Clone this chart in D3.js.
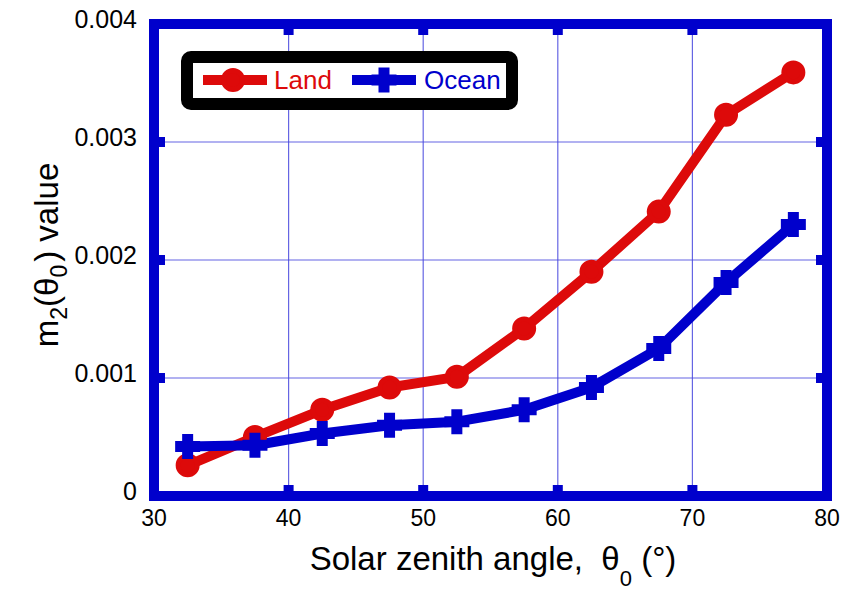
<!DOCTYPE html>
<html>
<head>
<meta charset="utf-8">
<script src="https://cdn.jsdelivr.net/npm/d3@7"></script>
<style>
body { margin: 0; background: #fff; }
svg { font-family: "Liberation Sans", Arial, sans-serif; }
</style>
</head>
<body>
<svg id="chart" width="844" height="593"></svg>
<script>
const angles = [32.5, 37.5, 42.5, 47.5, 52.5, 57.5, 62.5, 67.5, 72.5, 77.5];
const land = [0.00026, 0.00050, 0.00073, 0.00092, 0.00101, 0.00142, 0.00190, 0.00241, 0.00323, 0.00359];
const ocean = [0.00042, 0.00043, 0.00053, 0.00060, 0.00063, 0.00073, 0.00092, 0.00125, 0.00181, 0.00230];
const xTicks = [30, 40, 50, 60, 70, 80];
const yTicks = [0, 0.001, 0.002, 0.003, 0.004];
const yTickLabels = ['0', '0.001', '0.002', '0.003', '0.004'];

const red = '#dd0a0a', blue = '#0000cc';
const margin = {top: 24, right: 17, bottom: 97, left: 154};
const width = 844, height = 593;

const svg = d3.select('#chart');
const x = d3.scaleLinear().domain([30, 80]).range([margin.left, width - margin.right]);
const y = d3.scaleLinear().domain([0, 0.004]).range([height - margin.bottom, margin.top]);

// grid
const grid = svg.append('g').attr('stroke', '#4a4ade').attr('stroke-width', 1.2).attr('stroke-opacity', 0.85);
grid.selectAll('line.v').data(xTicks.slice(1, -1)).join('line')
	.attr('x1', d => x(d)).attr('x2', d => x(d))
	.attr('y1', y(0)).attr('y2', y(0.004));
grid.selectAll('line.h').data(yTicks.slice(1, -1)).join('line')
	.attr('class', 'h')
	.attr('x1', x(30)).attr('x2', x(80))
	.attr('y1', d => y(d)).attr('y2', d => y(d));

// frame with inward ticks
const frame = svg.append('g').attr('fill', blue);
frame.append('rect')
	.attr('x', x(30)).attr('y', y(0.004))
	.attr('width', x(80) - x(30)).attr('height', y(0) - y(0.004))
	.attr('fill', 'none').attr('stroke', blue).attr('stroke-width', 10);
xTicks.slice(1, -1).forEach(t => {
	frame.append('rect').attr('x', x(t) - 5).attr('y', y(0) - 11).attr('width', 10).attr('height', 11);
	frame.append('rect').attr('x', x(t) - 5).attr('y', y(0.004)).attr('width', 10).attr('height', 11);
});
yTicks.slice(1, -1).forEach(t => {
	frame.append('rect').attr('x', x(30)).attr('y', y(t) - 5).attr('width', 11).attr('height', 10);
	frame.append('rect').attr('x', x(80) - 11).attr('y', y(t) - 5).attr('width', 11).attr('height', 10);
});

// tick labels
svg.append('g').selectAll('text').data(xTicks).join('text')
	.attr('x', d => x(d)).attr('y', 526)
	.attr('text-anchor', 'middle').attr('font-size', 23).attr('fill', '#000')
	.text(d => d);
svg.append('g').selectAll('text').data(yTicks).join('text')
	.attr('x', 137).attr('y', d => y(d) + 4)
	.attr('text-anchor', 'end').attr('font-size', 25).attr('fill', '#000')
	.text((d, i) => yTickLabels[i]);

// axis titles
const xt = svg.append('text').attr('x', 493).attr('y', 570)
	.attr('text-anchor', 'middle').attr('font-size', 33).attr('fill', '#000')
	.attr('xml:space', 'preserve');
xt.append('tspan').text('Solar zenith angle,  θ');
xt.append('tspan').attr('dy', 16).attr('font-size', 22).text('0');
xt.append('tspan').attr('dy', -16).text(' (°)');

const yt = svg.append('text').attr('transform', 'translate(58,255) rotate(-90)')
	.attr('text-anchor', 'middle').attr('font-size', 33).attr('fill', '#000');
yt.append('tspan').text('m');
yt.append('tspan').attr('dy', 9).attr('font-size', 23).text('2');
yt.append('tspan').attr('dy', -9).text('(θ');
yt.append('tspan').attr('dy', 9).attr('font-size', 23).text('0');
yt.append('tspan').attr('dy', -9).attr('dx', 3).text(') value');

// lines
const line = d3.line().x((d, i) => x(angles[i])).y(d => y(d));
svg.append('path').datum(land).attr('d', line)
	.attr('fill', 'none').attr('stroke', red).attr('stroke-width', 10).attr('stroke-linejoin', 'round');
svg.append('path').datum(ocean).attr('d', line)
	.attr('fill', 'none').attr('stroke', blue).attr('stroke-width', 10).attr('stroke-linejoin', 'round');

// plus marker: span 25, arm width 11
const ps = 12.5, pa = 5.5;
const plusPath = `M${-pa},${-ps}H${pa}V${-pa}H${ps}V${pa}H${pa}V${ps}H${-pa}V${pa}H${-ps}V${-pa}H${-pa}Z`;
function drawCircle(g, cx, cy) {
	g.append('circle').attr('cx', cx).attr('cy', cy).attr('r', 9.5)
		.attr('fill', red).attr('stroke', red).attr('stroke-width', 5);
}
function drawPlus(g, cx, cy) {
	g.append('path').attr('d', plusPath).attr('transform', `translate(${cx},${cy})`).attr('fill', blue);
}
const mk = svg.append('g');
land.forEach((v, i) => drawCircle(mk, x(angles[i]), y(v)));
ocean.forEach((v, i) => drawPlus(mk, x(angles[i]), y(v)));

// legend
const lg = svg.append('g');
lg.append('rect').attr('x', 187).attr('y', 57).attr('width', 325).attr('height', 47).attr('rx', 4)
	.attr('fill', '#fff').attr('stroke', '#000').attr('stroke-width', 12);
lg.append('line').attr('x1', 203).attr('x2', 267).attr('y1', 80).attr('y2', 80)
	.attr('stroke', red).attr('stroke-width', 10);
drawCircle(lg, 233, 80);
lg.append('text').attr('x', 274).attr('y', 89).attr('font-size', 26).attr('fill', red).text('Land');
lg.append('line').attr('x1', 352).attr('x2', 416).attr('y1', 80).attr('y2', 80)
	.attr('stroke', blue).attr('stroke-width', 10);
drawPlus(lg, 384, 80);
lg.append('text').attr('x', 424).attr('y', 89).attr('font-size', 26).attr('fill', blue).text('Ocean');
</script>
</body>
</html>
